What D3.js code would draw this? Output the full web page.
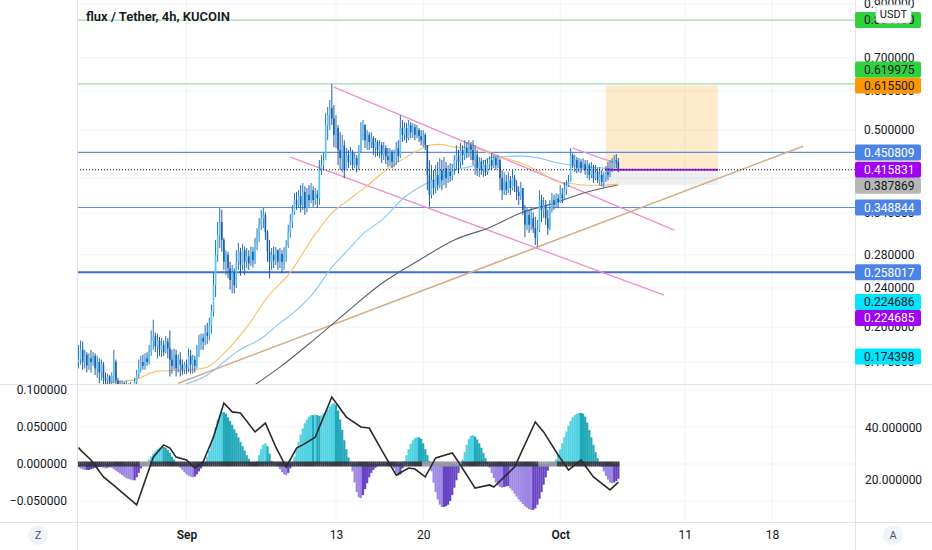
<!DOCTYPE html>
<html>
<head>
<meta charset="utf-8">
<script src="https://cdn.jsdelivr.net/npm/d3@7"></script>
<style>
  body { margin: 0; background: #fff; }
  svg { display: block; font-family: Roboto, "Noto Sans", sans-serif; }
</style>
</head>
<body>
<div id="chart"></div>
<script>
// flux / Tether 4h candles (open = previous close)
const barStart = "2021-08-23T08:00:00Z"
const barHours = 4
const firstOpen = 0.170

const closes = [
  .172,.180,.170,.176,.167,.173,.170,.175,.165,.170,
  .162,.168,.158,.156,.159,.155,.159,.170,.156,.153,
  .152,.154,.150,.153,.149,.152,.150,.155,.160,.165,
  .170,.167,.173,.170,.178,.188,.192,.183,.188,.180,
  .184,.178,.187,.181,.172,.167,.176,.165,.172,.168,
  .164,.168,.165,.175,.168,.172,.167,.180,.184,.190,
  .187,.195,.192,.202,.215,.243,.280,.307,.326,.300,
  .271,.280,.263,.249,.258,.243,.271,.284,.267,.286,
  .271,.278,.269,.284,.273,.293,.307,.322,.332,.337,
  .311,.284,.271,.280,.273,.286,.271,.281,.271,.280,
  .293,.311,.326,.341,.361,.353,.368,.353,.375,.348,
  .370,.361,.378,.361,.371,.364,.415,.425,.435,.512,
  .536,.554,.528,.489,.505,.456,.439,.466,.415,.445,
  .431,.451,.425,.439,.425,.456,.500,.512,.477,.489,
  .473,.482,.460,.473,.456,.466,.445,.460,.443,.435,
  .451,.431,.445,.460,.443,.505,.489,.505,.482,.512,
  .495,.507,.489,.500,.486,.477,.489,.466,.406,.370,
  .396,.382,.406,.387,.415,.396,.419,.400,.411,.404,
  .419,.435,.445,.431,.456,.445,.460,.451,.466,.456,
  .435,.445,.419,.431,.415,.425,.411,.427,.435,.423,
  .439,.425,.435,.400,.378,.393,.378,.396,.382,.400,
  .385,.375,.368,.382,.345,.322,.337,.322,.332,.317,
  .303,.314,.361,.345,.353,.332,.317,.345,.361,.353,
  .364,.358,.371,.364,.378,.387,.393,.445,.425,.435,
  .419,.431,.419,.427,.415,.425,.406,.419,.400,.411,
  .396,.406,.393,.400,.411,.406,.419,.425,.435,.431,
  .415831
]
const highs = [
  .184,.188,.187,.180,.178,.177,.180,.178,.177,.175,
  .173,.172,.170,.162,.161,.160,.162,.180,.172,.158,
  .156,.156,.155,.156,.154,.155,.153,.158,.164,.172,
  .175,.176,.177,.178,.184,.197,.207,.195,.194,.191,
  .190,.188,.192,.190,.197,.180,.181,.180,.176,.178,
  .172,.170,.172,.181,.180,.176,.175,.184,.193,.194,
  .194,.202,.204,.209,.222,.258,.300,.326,.348,.345,
  .303,.286,.284,.271,.267,.263,.286,.296,.289,.294,
  .291,.289,.286,.291,.290,.303,.317,.332,.345,.348,
  .341,.314,.300,.289,.291,.290,.287,.289,.286,.290,
  .300,.322,.338,.353,.373,.375,.378,.387,.391,.385,
  .382,.387,.391,.385,.382,.378,.435,.445,.450,.541,
  .557,.575,.620,.562,.536,.512,.495,.489,.477,.460,
  .456,.462,.456,.449,.445,.466,.519,.524,.514,.500,
  .495,.495,.486,.482,.477,.477,.473,.473,.466,.460,
  .460,.456,.456,.473,.477,.536,.524,.519,.517,.524,
  .519,.517,.514,.512,.505,.500,.500,.493,.466,.435,
  .425,.415,.425,.431,.439,.435,.441,.431,.425,.429,
  .427,.445,.466,.456,.471,.466,.477,.473,.477,.473,
  .477,.466,.456,.441,.439,.435,.435,.439,.443,.449,
  .445,.443,.445,.439,.415,.411,.406,.411,.404,.415,
  .406,.396,.385,.393,.378,.353,.348,.345,.350,.341,
  .334,.329,.378,.370,.366,.361,.345,.361,.373,.370,
  .373,.371,.387,.382,.393,.396,.406,.460,.449,.445,
  .441,.439,.437,.439,.435,.435,.429,.431,.425,.425,
  .419,.421,.415,.411,.423,.431,.435,.439,.445,.447,
  .439
]
const lows = [
  .165,.168,.164,.165,.162,.164,.162,.167,.160,.158,
  .154,.156,.153,.152,.153,.151,.153,.154,.152,.149,
  .148,.149,.146,.148,.145,.147,.147,.149,.152,.158,
  .162,.164,.164,.167,.168,.175,.180,.178,.173,.175,
  .174,.175,.177,.173,.159,.161,.164,.159,.162,.159,
  .160,.161,.161,.162,.161,.161,.162,.165,.174,.180,
  .180,.184,.185,.188,.194,.210,.230,.271,.289,.284,
  .261,.255,.251,.238,.234,.234,.240,.261,.254,.261,
  .255,.263,.261,.266,.264,.268,.286,.297,.314,.317,
  .300,.271,.251,.261,.263,.267,.261,.263,.257,.261,
  .271,.289,.303,.317,.337,.345,.348,.341,.345,.337,
  .341,.350,.356,.350,.353,.348,.353,.406,.415,.435,
  .477,.500,.512,.462,.460,.425,.415,.411,.400,.419,
  .419,.425,.415,.419,.411,.415,.451,.477,.460,.456,
  .456,.460,.445,.441,.443,.439,.429,.435,.427,.421,
  .423,.419,.421,.425,.431,.439,.473,.477,.471,.477,
  .482,.482,.477,.482,.473,.466,.462,.456,.378,.350,
  .364,.370,.373,.378,.382,.378,.387,.382,.391,.393,
  .396,.406,.415,.409,.419,.425,.435,.439,.441,.435,
  .425,.406,.404,.402,.406,.402,.404,.406,.415,.417,
  .419,.415,.419,.378,.361,.370,.370,.373,.370,.378,
  .375,.361,.353,.361,.337,.304,.314,.310,.314,.310,
  .293,.290,.311,.326,.332,.322,.307,.314,.341,.345,
  .348,.348,.356,.356,.361,.370,.384,.393,.419,.411,
  .409,.411,.409,.415,.406,.400,.396,.400,.391,.396,
  .391,.387,.385,.382,.393,.396,.402,.411,.419,.419,
  .411
]

// moving averages, [bar, price]
const maFast = [[10,.152],[14,.154],[28,.157],[38,.163],[54,.164],[62,.166],[70,.177],[81,.200],[91,.230],[102,.258],[113,.304],[122,.340],[130,.361],[138,.383],[148,.415],[157,.439],[164,.456],[169,.466],[174,.468],[181,.462],[190,.460],[200,.445],[213,.429],[222,.412],[229,.396],[237,.390],[245,.387],[253,.387],[260,.389]]
const maMid = [[48,.152],[62,.160],[70,.170],[76,.178],[89,.191],[97,.204],[103,.213],[113,.234],[122,.264],[129,.284],[138,.311],[146,.329],[157,.366],[164,.383],[169,.393],[175,.402],[181,.415],[190,.423],[200,.441],[213,.443],[222,.439],[229,.431],[237,.425],[245,.421],[253,.419],[260,.415]]
const maSlow = [[84,.152],[97,.166],[113,.188],[126,.209],[130,.216],[146,.245],[164,.273],[181,.300],[198,.318],[213,.340],[229,.356],[245,.375],[260,.387869]]

// drawings: trend lines [bar, price], levels, long position
const pinkUpper = [[123,.611],[287,.314]]
const pinkLower = [[102,.441],[282,.232]]
const pinkShort = [[238,.460],[260,.427]]
const tanLine = [[48,.154],[349,.464]]
const greenLevels = [0.834180, 0.619975]
const blueLevels = [0.450809, 0.348844, 0.258017]
const lastPrice = 0.415831
const positionBars = [254, 308]
const positionTarget = 0.6155
const positionStop = 0.387869

// right-axis price tags
const tagValues = [0.834180, 0.615500, 0.619975, 0.450809, 0.415831, 0.387869, 0.348844, 0.258017, 0.224686, 0.224685, 0.174398]
const tagKinds = ["green","orange","green","blue","purple","gray","blue","blue","cyan","purple","cyan"]

const priceTicks = [0.9, 0.7, 0.6, 0.5, 0.4, 0.34, 0.28, 0.24, 0.2, 0.17]
const timeTicks = ["2021-09-01","2021-09-13","2021-09-20","2021-10-01","2021-10-11","2021-10-18"]
const timeLabels = ["Sep","13","20","Oct","11","18"]

// squeeze momentum (x 0.001) per bar, and ADX line points [bar, value]
const momentumMilli = [
  -4,-6,-7,-8,-8,-8,-7,-6,-5,-5,
  -4,-4,-5,-6,-5,-4,-5,-7,-9,-11,
  -13,-15,-17,-19,-20,-21,-22,-22,-18,-12,
  -6,-2,0,3,6,10,14,17,20,22,
  23,23,22,19,15,10,6,2,-2,-5,
  -8,-11,-14,-16,-17,-18,-17,-14,-10,-6,
  -2,3,10,18,28,38,50,60,66,70,
  70,68,63,58,53,47,42,36,30,24,
  18,12,7,2,-1,1,4,12,20,26,
  28,24,14,4,1,-1,-3,-7,-11,-14,
  -15,-12,-6,2,10,20,30,40,48,55,
  60,64,66,66,67,66,65,66,68,70,
  74,78,81,82,80,72,60,46,32,20,
  9,2,-10,-25,-38,-45,-46,-42,-34,-26,
  -18,-12,-8,-5,-3,-2,-1,0,-1,-2,
  -3,-2,-6,-12,-16,-14,-6,4,12,20,
  27,32,35,36,36,34,28,20,12,4,
  -10,-25,-38,-48,-55,-58,-58,-57,-55,-50,
  -42,-32,-22,-12,-3,6,16,26,34,38,
  39,37,33,28,22,15,8,2,-5,-12,
  -19,-25,-29,-31,-32,-31,-30,-30,-33,-36,
  -40,-44,-48,-51,-54,-57,-59,-61,-62,-62,
  -60,-55,-47,-38,-28,-18,-9,-3,0,2,
  6,12,20,28,36,44,52,58,63,66,
  68,69,69,68,64,56,46,36,26,16,
  8,2,-4,-10,-16,-21,-25,-26,-25,-23,
  -20
]
const squeezeOff = [[30,34],[166,184],[222,230]]
const adx = [[0,32.5],[1,31.5],[6,27.7],[12,21.2],[18,17.3],[28,10.4],[31,17.3],[36,28.8],[41,33.5],[44,32.3],[47,28.8],[52,27.7],[56,24.6],[60,26.9],[65,36.5],[70,49.6],[74,46.2],[78,45.8],[85,38.5],[90,41.9],[95,32.7],[100,25],[105,32.3],[108,33.5],[114,36.5],[122,51.9],[129,44.2],[136,40.4],[140,40],[146,31.5],[153,21.9],[159,24.6],[162,24.2],[167,21.2],[172,28.5],[180,30.4],[183,26.9],[191,16.9],[198,18.1],[200,17.3],[210,25],[220,42.3],[224,38.5],[231,29.6],[236,23.8],[242,27.7],[248,21.2],[256,16.2],[260,19.2]]
const momTicks = [0.1, 0.05, 0, -0.05]
const adxTicks = [20, 40]

// ---------------------------------------------------------------
const WIDTH = 932
const HEIGHT = 550
const LEFT = 77, RIGHT = 855, MAIN_BOTTOM = 384, SUB_BOTTOM = 522
const GRID = "#f0f3fa", BORDER = "#e0e3eb", TEXT = "#131722"

const svg = d3.select("#chart").append("svg")
    .attr("width", WIDTH)
    .attr("height", HEIGHT)

const x = d3.scaleUtc()
    .domain([new Date("2021-09-01T00:00:00Z"), new Date("2021-10-18T00:00:00Z")])
    .range([186.5, 772])
const barTime = i => new Date(Date.parse(barStart) + i * barHours * 3600e3)
const xb = i => x(barTime(i))

const y = d3.scaleLog().domain([0.1535, 0.9159]).range([MAIN_BOTTOM, 0])
const yMom = d3.scaleLinear().domain([-0.05, 0.1]).range([501, 390])
const yAdx = d3.scaleLinear().domain([20, 40]).range([480, 428])

const defs = svg.append("defs")
defs.append("clipPath").attr("id", "clipMain")
    .append("rect").attr("x", LEFT).attr("y", 0).attr("width", RIGHT - LEFT).attr("height", MAIN_BOTTOM)
defs.append("clipPath").attr("id", "clipSub")
    .append("rect").attr("x", LEFT).attr("y", MAIN_BOTTOM).attr("width", RIGHT - LEFT).attr("height", SUB_BOTTOM - MAIN_BOTTOM)

// grid
const grid = svg.append("g")
grid.selectAll(".hg").data(priceTicks).enter().append("line")
    .attr("x1", LEFT).attr("x2", RIGHT)
    .attr("y1", d => y(d)).attr("y2", d => y(d))
    .attr("stroke", GRID)
grid.selectAll(".hm").data(momTicks).enter().append("line")
    .attr("x1", LEFT).attr("x2", RIGHT)
    .attr("y1", d => yMom(d)).attr("y2", d => yMom(d))
    .attr("stroke", GRID)
grid.selectAll(".vg").data(timeTicks).enter().append("line")
    .attr("x1", d => x(new Date(d))).attr("x2", d => x(new Date(d)))
    .attr("y1", 0).attr("y2", SUB_BOTTOM)
    .attr("stroke", GRID)

// ---------------- main pane ----------------
const main = svg.append("g").attr("clip-path", "url(#clipMain)")

// long position box
const px0 = xb(positionBars[0]), px1 = xb(positionBars[1])
main.append("rect")
    .attr("x", px0).attr("width", px1 - px0)
    .attr("y", y(positionTarget)).attr("height", y(lastPrice) - y(positionTarget))
    .attr("fill", "#ff9800").attr("fill-opacity", 0.2)
main.append("rect")
    .attr("x", px0).attr("width", px1 - px0)
    .attr("y", y(lastPrice)).attr("height", y(positionStop) - y(lastPrice))
    .attr("fill", "#787b86").attr("fill-opacity", 0.12)

// horizontal levels
main.selectAll(".green").data(greenLevels).enter().append("line")
    .attr("x1", LEFT).attr("x2", RIGHT)
    .attr("y1", d => y(d)).attr("y2", d => y(d))
    .attr("stroke", "#7ed98d").attr("stroke-width", 1)
main.selectAll(".blue").data(blueLevels).enter().append("line")
    .attr("x1", LEFT).attr("x2", RIGHT)
    .attr("y1", d => y(d)).attr("y2", d => y(d))
    .attr("stroke", (d, i) => i == 2 ? "#3c72d8" : "#5b8ee6")
    .attr("stroke-width", (d, i) => i == 2 ? 2 : 1.2)

// trend lines
const seg = d3.line().x(d => xb(d[0])).y(d => y(d[1]))
;[pinkUpper, pinkLower, pinkShort].forEach(p => {
    main.append("path").attr("d", seg(p))
        .attr("fill", "none").attr("stroke", "#ef8fcf").attr("stroke-width", 1.3)
})
main.append("path").attr("d", seg(tanLine))
    .attr("fill", "none").attr("stroke", "#d4aa82").attr("stroke-width", 1.5)

// moving averages
const maLine = d3.line().x(d => xb(d[0])).y(d => y(d[1])).curve(d3.curveMonotoneX)
main.append("path").attr("d", maLine(maSlow))
    .attr("fill", "none").attr("stroke", "#5d6068").attr("stroke-width", 1.1)
main.append("path").attr("d", maLine(maMid))
    .attr("fill", "none").attr("stroke", "#8cc6f0").attr("stroke-width", 1.1)
main.append("path").attr("d", maLine(maFast))
    .attr("fill", "none").attr("stroke", "#f7c068").attr("stroke-width", 1.1)

// candles
const candles = closes.map((c, i) => {
    const o = i === 0 ? firstOpen : closes[i - 1]
    return { i, o, c, h: Math.max(highs[i], o, c), l: Math.min(lows[i], o, c) }
})
const UP = "#5cc6f2", DOWN = "#1f5ca6"
const cg = main.append("g")
cg.selectAll("line").data(candles).enter().append("line")
    .attr("x1", d => xb(d.i)).attr("x2", d => xb(d.i))
    .attr("y1", d => y(d.h)).attr("y2", d => y(d.l))
    .attr("stroke", d => d.c >= d.o ? "#2a73c0" : DOWN).attr("stroke-width", 1)
cg.selectAll("rect").data(candles).enter().append("rect")
    .attr("x", d => xb(d.i) - 0.8).attr("width", 1.6)
    .attr("y", d => y(Math.max(d.o, d.c)))
    .attr("height", d => Math.max(1, y(Math.min(d.o, d.c)) - y(Math.max(d.o, d.c))))
    .attr("fill", d => d.c >= d.o ? UP : DOWN)

// entry line and last price line
main.append("line")
    .attr("x1", px0).attr("x2", px1)
    .attr("y1", y(lastPrice)).attr("y2", y(lastPrice))
    .attr("stroke", "#9c1ff0").attr("stroke-width", 2)
main.append("line")
    .attr("x1", LEFT).attr("x2", RIGHT)
    .attr("y1", y(lastPrice)).attr("y2", y(lastPrice))
    .attr("stroke", TEXT).attr("stroke-width", 1).attr("stroke-dasharray", "1,2")

// title
svg.append("text")
    .attr("x", 86).attr("y", 21)
    .attr("font-size", 13).attr("font-weight", 600).attr("fill", TEXT)
    .text("flux / Tether, 4h, KUCOIN")

// ---------------- lower pane ----------------
const sub = svg.append("g").attr("clip-path", "url(#clipSub)")
sub.selectAll("rect.mom").data(momentumMilli).enter().append("rect")
    .attr("x", (d, i) => xb(i) - 1.1).attr("width", 2.2)
    .attr("y", d => yMom(Math.max(0, d / 1000)))
    .attr("height", d => Math.abs(yMom(d / 1000) - yMom(0)))
    .attr("fill", (d, i) => {
        const prev = i > 0 ? momentumMilli[i - 1] : d
        if (d >= 0) return d > prev ? "#50d2e2" : "#22a8b8"
        return d < prev ? "#9d86e4" : "#6743c4"
    })
const offBar = i => squeezeOff.some(r => i >= r[0] && i <= r[1])
sub.selectAll("rect.sq").data(momentumMilli).enter().append("rect")
    .attr("x", (d, i) => xb(i) - 1.1).attr("width", 2.2)
    .attr("y", yMom(0) - 2.5).attr("height", 5)
    .attr("fill", (d, i) => offBar(i) ? "#9598a1" : "#363a45")
sub.append("path")
    .attr("d", d3.line().x(d => xb(d[0])).y(d => yAdx(d[1]))(adx))
    .attr("fill", "none").attr("stroke", "#2a2a2a").attr("stroke-width", 1.6)

// ---------------- borders & axes ----------------
const borders = svg.append("g").attr("stroke", BORDER)
borders.append("line").attr("x1", 0).attr("x2", WIDTH).attr("y1", MAIN_BOTTOM + 0.5).attr("y2", MAIN_BOTTOM + 0.5)
borders.append("line").attr("x1", 0).attr("x2", WIDTH).attr("y1", SUB_BOTTOM + 0.5).attr("y2", SUB_BOTTOM + 0.5)
borders.append("line").attr("x1", LEFT + 0.5).attr("x2", LEFT + 0.5).attr("y1", 0).attr("y2", HEIGHT)
borders.append("line").attr("x1", RIGHT + 0.5).attr("x2", RIGHT + 0.5).attr("y1", 0).attr("y2", HEIGHT)

function styleAxis(g) {
    g.attr("font-size", 12).attr("font-family", "Roboto, 'Noto Sans', sans-serif").attr("color", TEXT)
    g.select(".domain").remove()
    g.selectAll(".tick line").remove()
}
svg.append("g").attr("transform", `translate(${RIGHT},0)`)
    .call(d3.axisRight(y).tickValues(priceTicks).tickFormat(d3.format(".6f")).tickSize(0).tickPadding(9))
    .call(styleAxis)
svg.append("g").attr("transform", `translate(${RIGHT},0)`)
    .call(d3.axisRight(yAdx).tickValues(adxTicks).tickFormat(d3.format(".6f")).tickSize(0).tickPadding(10))
    .call(styleAxis)
svg.append("g").attr("transform", `translate(${LEFT},0)`)
    .call(d3.axisLeft(yMom).tickValues(momTicks).tickFormat(d3.format(".6f")).tickSize(0).tickPadding(10))
    .call(styleAxis)
svg.append("g").attr("transform", `translate(0,${SUB_BOTTOM})`)
    .call(d3.axisBottom(x).tickValues(timeTicks.map(d => new Date(d))).tickFormat((d, i) => timeLabels[i]).tickSize(0).tickPadding(8))
    .call(styleAxis)
    .selectAll("text").attr("font-weight", (d, i) => /[A-Z]/.test(timeLabels[i]) ? 600 : 400)

// price tags with simple collision pushing
const tagStyle = {
    green: ["#2fd23c", TEXT], orange: ["#ff9800", TEXT], blue: ["#4c84e6", "#fff"],
    purple: ["#a100f2", "#fff"], gray: ["#b7b7b7", TEXT], cyan: ["#00e5ff", TEXT]
}
const TAG_H = 16
const placed = []
tagValues.forEach((v, k) => {
    let cy = y(v)
    for (let n = 0; n < 20; n++) {
        const hit = placed.find(p => Math.abs(p.cy - cy) < TAG_H - 0.01)
        if (!hit) break
        cy = v > hit.v ? hit.cy - TAG_H : hit.cy + TAG_H
    }
    placed.push({ v, cy, kind: tagKinds[k] })
})
const tags = svg.append("g")
placed.forEach(p => {
    const [bg, fg] = tagStyle[p.kind]
    tags.append("rect").attr("x", RIGHT).attr("y", p.cy - TAG_H / 2)
        .attr("width", 66).attr("height", TAG_H).attr("rx", 2).attr("fill", bg)
    tags.append("text").attr("x", RIGHT + 9).attr("y", p.cy).attr("dy", "0.35em")
        .attr("font-size", 12).attr("fill", fg).text(d3.format(".6f")(p.v))
})

// currency box
svg.append("rect").attr("x", 876).attr("y", 5).attr("width", 35).attr("height", 18).attr("rx", 3)
    .attr("fill", "#fff").attr("stroke", "#d1d4dc")
svg.append("text").attr("x", 893.5).attr("y", 14).attr("dy", "0.35em").attr("text-anchor", "middle")
    .attr("font-size", 11).attr("fill", TEXT).text("USDT")

// corner buttons
;[[38, "Z"], [893, "A"]].forEach(([cx, t]) => {
    svg.append("circle").attr("cx", cx).attr("cy", 535).attr("r", 10).attr("fill", "#f0f3fa")
    svg.append("text").attr("x", cx).attr("y", 535).attr("dy", "0.35em").attr("text-anchor", "middle")
        .attr("font-size", 11).attr("fill", "#50535e").text(t)
})
</script>
</body>
</html>
